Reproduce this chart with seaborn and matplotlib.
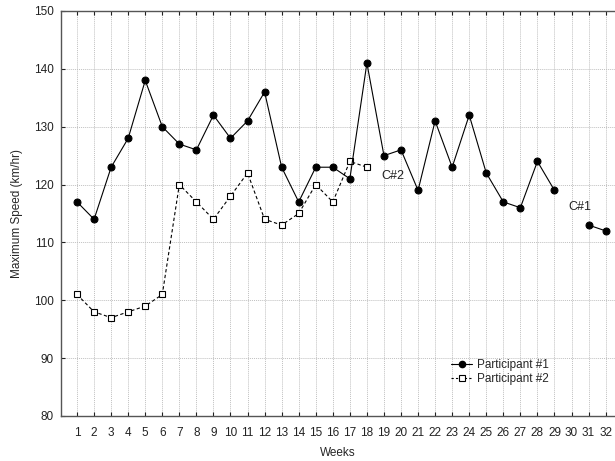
import numpy as np
import pandas as pd
import matplotlib
matplotlib.use("Agg")
import matplotlib.pyplot as plt
from matplotlib.lines import Line2D
import seaborn as sns

weeks1 = list(range(1, 30)) + [31, 32]
speed1 = [117, 114, 123, 128, 138, 130, 127, 126, 132, 128, 131, 136, 123, 117,
          123, 123, 121, 141, 125, 126, 119, 131, 123, 132, 122, 117, 116, 124,
          119, 113, 112]
segment1 = [0] * 29 + [1, 1]

weeks2 = list(range(1, 19))
speed2 = [101, 98, 97, 98, 99, 101, 120, 117, 114, 118, 122, 114, 113, 115,
          120, 117, 124, 123]

xticks = list(range(1, 33))
yticks = [80, 90, 100, 110, 120, 130, 140, 150]
labels = ["Participant #1", "Participant #2"]

sns.set_theme(style="white")
plt.rcParams['font.family'] = ['Liberation Sans', 'DejaVu Sans']

df1 = pd.DataFrame({"week": weeks1, "speed": speed1, "seg": segment1})
df2 = pd.DataFrame({"week": weeks2, "speed": speed2, "seg": [0] * len(weeks2)})

fig = plt.figure(figsize=(6.15, 4.61), dpi=100)
ax = fig.add_axes([60.5 / 615, 1 - 416 / 461, (615 - 60.5) / 615, (416 - 11) / 461])

sns.lineplot(data=df2, x="week", y="speed", units="seg", estimator=None,
             color="black", linewidth=0.8, linestyle=(0, (3, 2.2)),
             marker="s", markersize=5, markerfacecolor="white",
             markeredgecolor="black", markeredgewidth=0.8, ax=ax, zorder=3)
sns.lineplot(data=df1, x="week", y="speed", units="seg", estimator=None,
             color="black", linewidth=0.8, marker="o", markersize=5,
             markerfacecolor="black", markeredgecolor="black", ax=ax, zorder=4)

ax.set_xlim(0.03, 32.55)
ax.set_ylim(80, 150)
ax.set_xticks(xticks)
ax.set_xticklabels([str(w) for w in xticks])
ax.set_yticks(yticks)
ax.grid(True, color="#c0c0c0", linestyle=(0, (1, 1)), linewidth=0.7)
ax.set_axisbelow(True)
ax.tick_params(axis="both", direction="in", length=3, width=0.8, labelsize=8.5,
               colors="#222222", bottom=True, left=True, top=True, pad=8)
ax.tick_params(axis="y", pad=5)
for s in ["left", "bottom", "top"]:
    ax.spines[s].set_color("#555555")
    ax.spines[s].set_linewidth(1.0)
ax.spines["right"].set_visible(False)

ax.set_xlabel("Weeks", fontsize=8.5, labelpad=6)
ax.set_ylabel("Maximum Speed (km/hr)", fontsize=8.5, labelpad=8)

ax.text(18.85, 121.4, "C#2", fontsize=9, va="center", ha="left", color="#222222")
ax.text(29.8, 116.2, "C#1", fontsize=9, va="center", ha="left", color="#222222")

handles = [
    Line2D([], [], color="black", linewidth=0.8, marker="o", markersize=4.5,
           markerfacecolor="black"),
    Line2D([], [], color="black", linewidth=0.8, linestyle=(0, (2, 2)), marker="s",
           markersize=4.5, markerfacecolor="white", markeredgewidth=0.8),
]
ax.legend(handles, labels, loc="lower right", bbox_to_anchor=(0.9, 0.05),
          frameon=False, fontsize=8.5, handlelength=1.8, handletextpad=0.4,
          labelspacing=0.2)

fig.savefig("out.png", dpi=100)
